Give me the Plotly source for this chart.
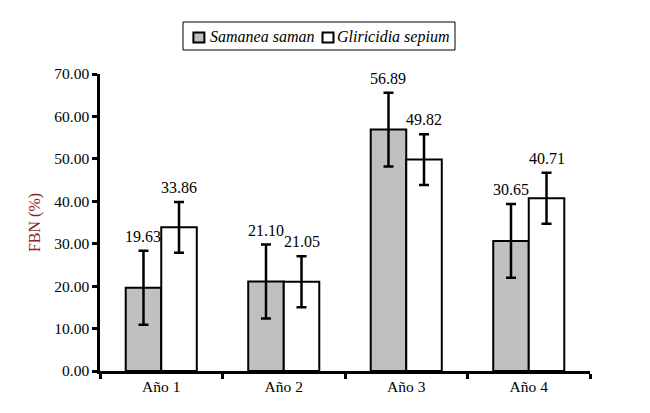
import plotly.graph_objects as go

categories = ["Año 1", "Año 2", "Año 3", "Año 4"]
series_names = ["Samanea saman", "Gliricidia sepium"]
samanea = [19.63, 21.10, 56.89, 30.65]
gliricidia = [33.86, 21.05, 49.82, 40.71]
samanea_err = [8.7, 8.7, 8.7, 8.7]
gliricidia_err = [6.0, 6.0, 6.0, 6.0]
y_ticks = [0, 10, 20, 30, 40, 50, 60, 70]

font = "Liberation Serif"
colors = ["#C0C0C0", "white"]

fig = go.Figure()
fig.add_trace(go.Bar(
    name=series_names[0], x=categories, y=samanea,
    marker=dict(color=colors[0], line=dict(color="black", width=2)),
    error_y=dict(type="data", array=samanea_err, color="black", thickness=2.5, width=5),
))
fig.add_trace(go.Bar(
    name=series_names[1], x=categories, y=gliricidia,
    marker=dict(color=colors[1], line=dict(color="black", width=2)),
    error_y=dict(type="data", array=gliricidia_err, color="black", thickness=2.5, width=5),
))

# value labels above error bars
for i, c in enumerate(categories):
    for vals, errs, off in ((samanea, samanea_err, -0.145), (gliricidia, gliricidia_err, 0.145)):
        fig.add_annotation(
            x=i + off, y=vals[i] + errs[i], text=f"{vals[i]:.2f}",
            xref="x", yref="y", showarrow=False, yanchor="bottom", yshift=4,
            font=dict(family=font, size=16, color="black"),
        )

# custom legend (box, swatches, labels) in paper coordinates
fig.add_shape(type="rect", xref="paper", yref="paper",
              x0=0.1694, x1=0.7245, y0=1.0808, y1=1.1751,
              line=dict(color="black", width=1), fillcolor="white")
for sx, tx, col, name in ((0.1906, 0.2194, colors[0], series_names[0]),
                          (0.4541, 0.4806, colors[1], series_names[1])):
    fig.add_shape(type="rect", xref="paper", yref="paper",
                  x0=sx, x1=sx + 0.0224, y0=1.1061, y1=1.1397,
                  line=dict(color="black", width=2), fillcolor=col)
    fig.add_annotation(x=tx, y=1.1246, xref="paper", yref="paper",
                       text=f"<i>{name}</i>", showarrow=False,
                       xanchor="left", yanchor="middle",
                       font=dict(family=font, size=16, color="black"))

fig.update_layout(
    width=650, height=413,
    margin=dict(l=92, r=68, t=66, b=50, autoexpand=False),
    plot_bgcolor="white", paper_bgcolor="white",
    barmode="group", bargap=0.42, bargroupgap=0,
    font=dict(family=font, size=15.5, color="black"),
    showlegend=False,
    xaxis=dict(
        type="category", range=[-0.5, 3.5],
        showline=True, linecolor="black", linewidth=2.5,
        ticks="outside", tickson="boundaries", ticklen=5, tickwidth=2.5, tickcolor="black",
        showgrid=False, tickfont=dict(family=font, size=15.5),
    ),
    yaxis=dict(
        range=[0, 70], tickvals=y_ticks, tickformat=".2f",
        showline=True, linecolor="black", linewidth=2.5,
        ticks="outside", ticklen=5, tickwidth=2.5, tickcolor="black",
        showgrid=False, zeroline=False, tickfont=dict(family=font, size=15.5),
        title=dict(text="FBN (%)", font=dict(family=font, size=16, color="#8B2323"), standoff=10),
    ),
)

fig.write_html("out.html")
